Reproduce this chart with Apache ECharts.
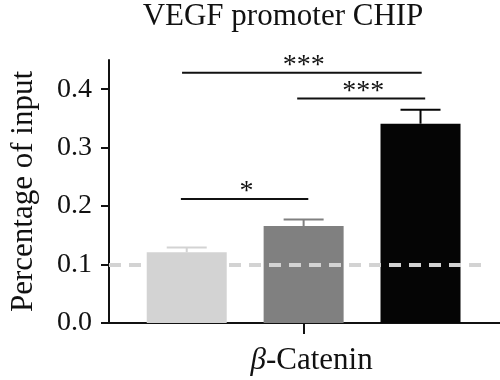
<!DOCTYPE html>
<html>
<head>
<meta charset="utf-8">
<script src="https://cdn.jsdelivr.net/npm/echarts@6/dist/echarts.min.js"></script>
<style>html,body{margin:0;padding:0;background:#fff}#c{width:500px;height:380px}</style>
</head>
<body>
<div id="c"></div>
<script>
// ---- data ----
const titleText = 'VEGF promoter CHIP';
const yAxisName = 'Percentage of input';
const groupLabel = 'β-Catenin';
const barX = [-1, 0, 1];                 // bar positions within the group
const barValues = [0.121, 0.166, 0.341]; // mean
const barErrors = [0.008, 0.011, 0.024]; // upper error
const yTicks = [0, 0.1, 0.2, 0.3, 0.4];
const refValue = 0.1;
const sigX1 = [-1.04, -0.055, -1.05];
const sigX2 = [1.01, 1.04, 0.04];
const sigY = [0.428, 0.384, 0.212];
const sigLabels = ['***', '***', '*'];

// ---- styles ----
const barColors = ['#d3d3d3', '#808080', '#050505'];
const serif = '"Liberation Serif", "DejaVu Serif", serif';

const chart = echarts.init(document.getElementById('c'));
const xMin = -1.665, xMax = 1.68;

chart.setOption({
  animation: false,
  backgroundColor: '#fff',
  graphic: [{
    type: 'text',
    x: 283, y: 17,
    style: { text: titleText, font: '31px ' + serif, fill: '#111', align: 'center', verticalAlign: 'middle' }
  }],
  grid: { left: 104, right: 0, top: 60, bottom: 57, containLabel: false },
  xAxis: {
    type: 'value', min: xMin, max: xMax,
    splitLine: { show: false },
    axisLine: { show: true, lineStyle: { color: '#111', width: 2 } },
    axisTick: { show: true, customValues: [0], length: 11, lineStyle: { color: '#111', width: 2 } },
    axisLabel: {
      customValues: [0], margin: 22,
      formatter: () => '{i|β}{n|' + groupLabel.slice(1) + '}',
      padding: [0, 0, 0, 16],
      rich: {
        i: { fontFamily: serif, fontSize: 31, fontStyle: 'italic', color: '#111' },
        n: { fontFamily: serif, fontSize: 31, color: '#111' }
      }
    }
  },
  yAxis: {
    type: 'value', min: 0, max: 0.45,
    name: yAxisName, nameLocation: 'middle', nameGap: 70,
    nameTextStyle: { fontFamily: serif, fontSize: 31, color: '#111' },
    splitLine: { show: false },
    axisLine: { show: true, onZero: false, lineStyle: { color: '#111', width: 2 } },
    axisTick: { show: true, customValues: yTicks, length: 8, lineStyle: { color: '#111', width: 2 } },
    axisLabel: {
      customValues: yTicks, margin: 17,
      formatter: v => v.toFixed(1),
      fontFamily: serif, fontSize: 28, color: '#111'
    }
  },
  series: [
    {
      type: 'bar', barWidth: 80,
      data: barX.map((x, i) => ({ value: [x, barValues[i]], itemStyle: { color: barColors[i] } })),
      z: 2,
      markLine: {
        silent: true, symbol: 'none', z: 3,
        label: { show: false },
        lineStyle: { color: '#d3d3d3', width: 4, type: [12, 8] },
        data: [[{ coord: [xMin, refValue] }, { coord: [1.557, refValue] }]]
      }
    },
    {
      type: 'custom', z: 1,
      data: barX.map((x, i) => [x, barValues[i], barValues[i] + barErrors[i]]),
      renderItem: (params, api) => {
        const p0 = api.coord([api.value(0), api.value(1)]);
        const p1 = api.coord([api.value(0), api.value(2)]);
        const c = barColors[params.dataIndex];
        const st = { stroke: c, lineWidth: 2 };
        return { type: 'group', children: [
          { type: 'line', shape: { x1: p0[0], y1: p0[1], x2: p1[0], y2: p1[1] }, style: st },
          { type: 'line', shape: { x1: p1[0] - 20, y1: p1[1], x2: p1[0] + 20, y2: p1[1] }, style: st }
        ]};
      }
    },
    {
      type: 'custom', z: 5,
      data: sigY.map((y, i) => [sigX1[i], sigX2[i], y]),
      renderItem: (params, api) => {
        const a = api.coord([api.value(0), api.value(2)]);
        const b = api.coord([api.value(1), api.value(2)]);
        return { type: 'group', children: [
          { type: 'line', shape: { x1: a[0], y1: a[1], x2: b[0], y2: b[1] }, style: { stroke: '#111', lineWidth: 2 } },
          { type: 'text', x: (a[0] + b[0]) / 2 + 2, y: a[1] - 7,
            style: { text: sigLabels[params.dataIndex], font: '28px ' + serif, fill: '#111', align: 'center', verticalAlign: 'middle' } }
        ]};
      }
    }
  ]
});
</script>
</body>
</html>
